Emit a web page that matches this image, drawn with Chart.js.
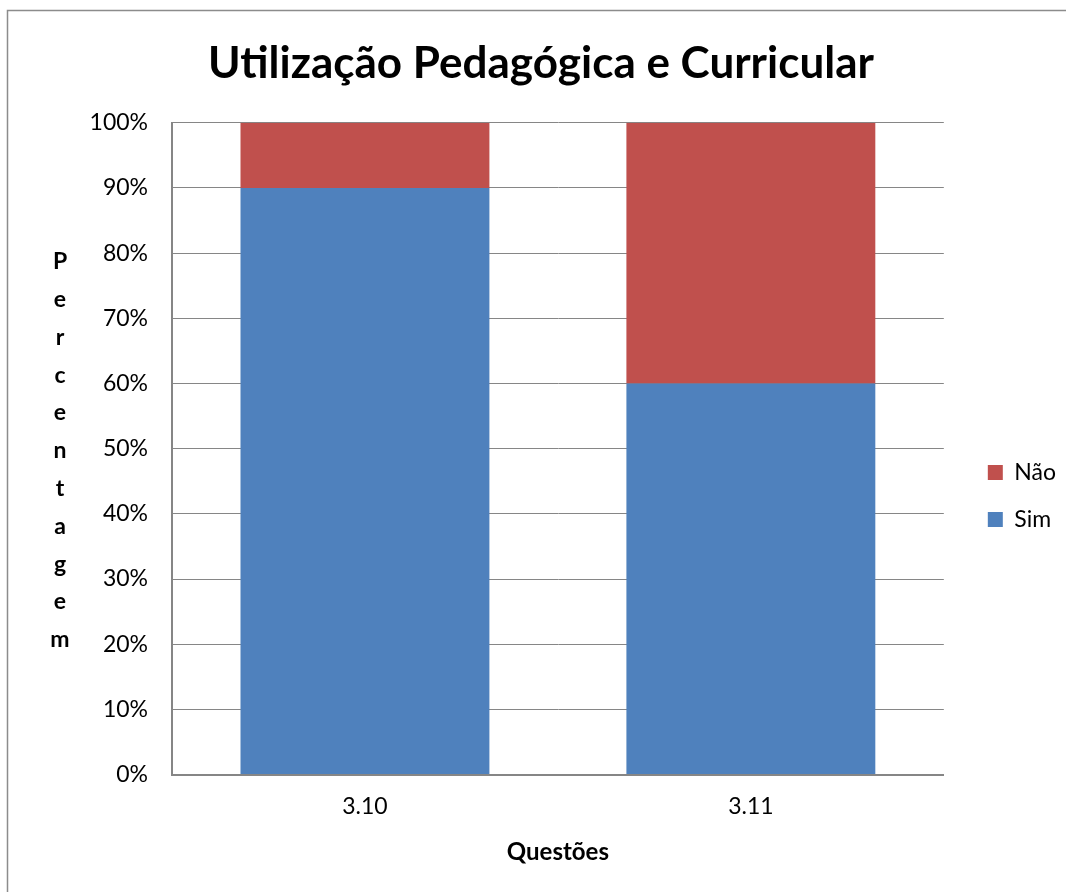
<!DOCTYPE html>
<html><head><meta charset="utf-8">
<script src="https://cdn.jsdelivr.net/npm/chart.js@4.4.1/dist/chart.umd.min.js"></script>
<style>html,body{margin:0;padding:0;background:#fff;}canvas{display:block;}</style>
</head><body>
<canvas id="c" width="1066" height="892"></canvas>
<script>
const categories = ['3.10', '3.11'];
const simValues = [90, 60];
const naoValues = [10, 40];
const seriesNames = ['Sim', 'Não'];
const yTickValues = [0, 10, 20, 30, 40, 50, 60, 70, 80, 90, 100];
const chartTitle = 'Utilização Pedagógica e Curricular';
const yAxisTitle = 'Percentagem';
const xAxisTitle = 'Questões';

const FONT = 'Lato';
const GRID = '#868686';

const frame = {
  id: 'frame',
  beforeDraw(chart) {
    const ctx = chart.ctx;
    ctx.save();
    ctx.fillStyle = '#fff';
    ctx.fillRect(0, 0, chart.width, chart.height);
    ctx.strokeStyle = '#8c8c8c';
    ctx.lineWidth = 1.5;
    ctx.strokeRect(7.5, 10.5, chart.width + 20, chart.height + 20);
    ctx.restore();
  },
  afterDraw(chart) {
    const ctx = chart.ctx;
    const a = chart.chartArea;
    const letters = Array.from(yAxisTitle);
    const step = 37.8;
    const cy = (a.top + a.bottom) / 2 + 2;
    ctx.save();
    ctx.font = 'bold 23px ' + FONT;
    ctx.fillStyle = '#000';
    ctx.textAlign = 'center';
    ctx.textBaseline = 'middle';
    letters.forEach((ch, i) => {
      ctx.fillText(ch, 60, cy + (i - (letters.length - 1) / 2) * step);
    });
    ctx.restore();
  }
};

new Chart(document.getElementById('c'), {
  type: 'bar',
  data: {
    labels: categories,
    datasets: [
      { label: seriesNames[0], data: simValues, backgroundColor: '#4F81BD', borderWidth: 0 },
      { label: seriesNames[1], data: naoValues, backgroundColor: '#C0504D', borderWidth: 0 }
    ]
  },
  options: {
    responsive: false,
    animation: false,
    events: [],
    barPercentage: 0.645,
    categoryPercentage: 1,
    layout: { padding: { left: 16, right: 0, top: 0, bottom: 25 } },
    plugins: {
      title: {
        display: true, text: chartTitle, color: '#000',
        font: { family: FONT, size: 44, weight: 'bold' },
        padding: { top: 37, bottom: 33 }
      },
      legend: {
        position: 'right', reverse: true, fullSize: false, maxWidth: 103,
        labels: {
          boxWidth: 15, boxHeight: 15, padding: 24, color: '#000',
          font: { family: FONT, size: 23 }
        },
        title: { display: true, text: '', padding: { top: 80, bottom: 0 } }
      },
      tooltip: { enabled: false }
    },
    scales: {
      x: {
        stacked: true,
        grid: { color: 'rgba(0,0,0,0)', drawTicks: false },
        border: { display: true, color: GRID, width: 2 },
        ticks: { color: '#000', padding: 18, font: { family: FONT, size: 23 } },
        title: {
          display: true, text: xAxisTitle, color: '#000',
          font: { family: FONT, size: 24, weight: 'bold' },
          padding: { top: 0, bottom: 0 }
        }
      },
      y: {
        stacked: true, min: 0, max: 100,
        afterFit(s) { s.width = 156; },
        afterBuildTicks(s) { s.ticks = yTickValues.map(v => ({ value: v })); },
        grid: { color: GRID, lineWidth: 1, drawTicks: false },
        border: { display: true, color: GRID, width: 2 },
        ticks: {
          color: '#000', padding: 24, font: { family: FONT, size: 23 },
          callback: v => v + '%'
        }
      },
      yR: {
        type: 'linear', position: 'right', display: true,
        afterFit(s) { s.width = 20; },
        grid: { display: false, drawTicks: false },
        border: { display: false },
        ticks: { display: false }
      }
    }
  },
  plugins: [frame]
});
</script>
</body></html>
